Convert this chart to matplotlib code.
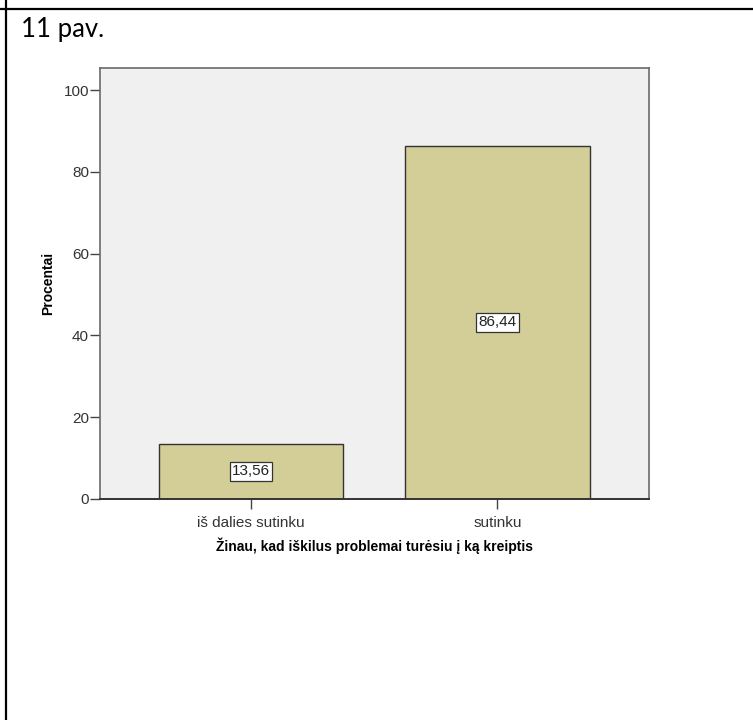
import matplotlib
matplotlib.use("Agg")
import matplotlib.pyplot as plt
from matplotlib.lines import Line2D

# data
categories = ["iš dalies sutinku", "sutinku"]
percents = [13.56, 86.44]
value_labels = ["13,56", "86,44"]
y_ticks = [0, 20, 40, 60, 80, 100]

W, H = 753, 720
fig = plt.figure(figsize=(W / 100, H / 100), dpi=100)
fig.patch.set_facecolor("white")

# table cell borders (left and top)
fig.add_artist(Line2D([6 / W, 6 / W], [0, 1], color="black", lw=1.6,
                      transform=fig.transFigure))
fig.add_artist(Line2D([0, 1], [1 - 8.5 / H, 1 - 8.5 / H], color="black", lw=1.6,
                      transform=fig.transFigure))

# caption
fig.text(21 / W, 1 - 30 / H, "11 pav.", fontsize=18.5, family="Lato",
         va="center", ha="left", color="black")

# axes box
left, right, top, bottom = 100, 649, 68, 499
ax = fig.add_axes([left / W, 1 - bottom / H, (right - left) / W, (bottom - top) / H])
ax.set_facecolor("#f0f0f0")

x = list(range(len(categories)))
ax.bar(x, percents, width=0.75, color="#d3ce98", edgecolor="#333333", linewidth=1.0,
       zorder=2)

for xi, v, lab in zip(x, percents, value_labels):
    ax.text(xi, v / 2, lab, ha="center", va="center", fontsize=11,
            family="Liberation Sans", color="#222222", zorder=3,
            bbox=dict(boxstyle="square,pad=0.15", facecolor="white",
                      edgecolor="#333333", linewidth=0.9))

ax.set_xlim(-0.613, 1.615)
ax.set_ylim(0, 105.4)
ax.set_yticks(y_ticks)
ax.set_yticklabels([str(t) for t in y_ticks])
ax.set_xticks(x)
ax.set_xticklabels(categories)

for lbl in ax.get_xticklabels() + ax.get_yticklabels():
    lbl.set_family("Liberation Sans")
    lbl.set_fontsize(11)
    lbl.set_color("#333333")

ax.tick_params(axis="both", direction="out", length=7, width=1, color="#444444",
               pad=1)
ax.tick_params(axis="x", pad=5)

for side in ["left", "right", "top"]:
    ax.spines[side].set_color("#6a6a6a")
    ax.spines[side].set_linewidth(1.2)
ax.spines["bottom"].set_color("#333333")
ax.spines["bottom"].set_linewidth(1.4)

ax.set_ylabel("Procentai", fontsize=10, family="Liberation Sans",
              fontweight="bold", labelpad=6)
ax.set_xlabel("Žinau, kad iškilus problemai turėsiu į ką kreiptis", fontsize=10,
              family="Liberation Sans", fontweight="bold", labelpad=5.5)

fig.savefig("out.png", dpi=100, facecolor="white")
